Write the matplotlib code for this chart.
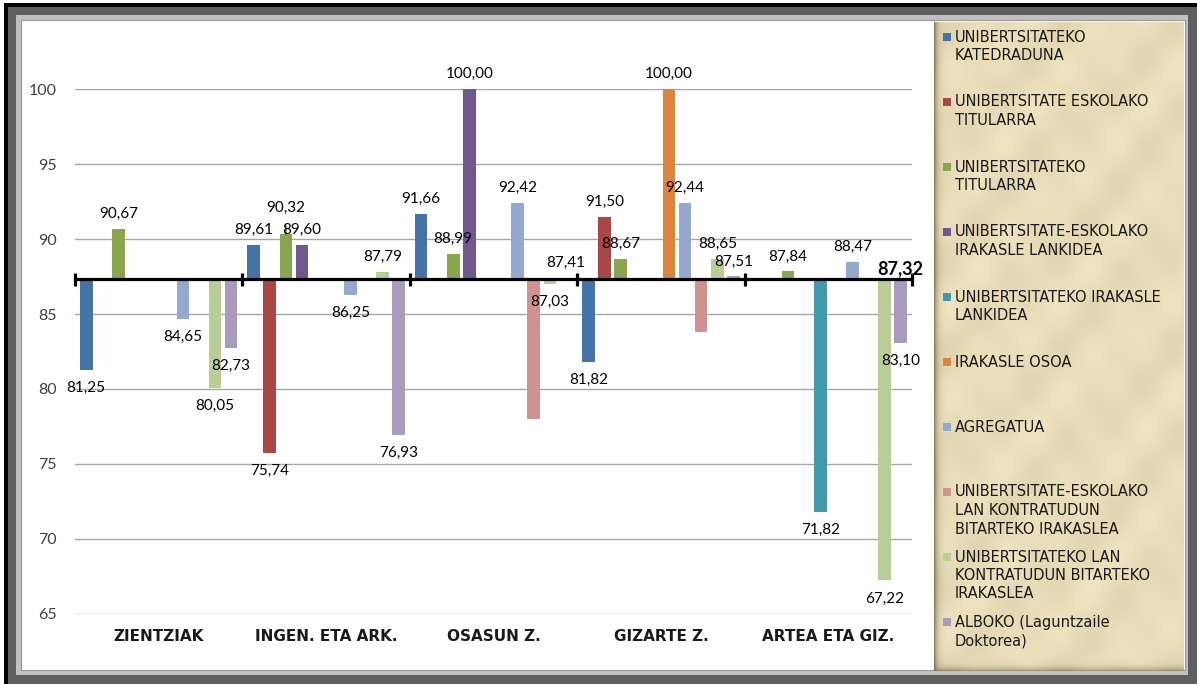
import numpy as np
import matplotlib
matplotlib.use("Agg")
import matplotlib.pyplot as plt
from matplotlib.patches import Rectangle

plt.rcParams['font.family'] = ['Lato', 'DejaVu Sans']

# ---------------- data ----------------
CATEGORIES = ["ZIENTZIAK", "INGEN. ETA ARK.", "OSASUN Z.", "GIZARTE Z.", "ARTEA ETA GIZ."]
SERIES = [
    "UNIBERTSITATEKO\nKATEDRADUNA",
    "UNIBERTSITATE ESKOLAKO\nTITULARRA",
    "UNIBERTSITATEKO\nTITULARRA",
    "UNIBERTSITATE-ESKOLAKO\nIRAKASLE LANKIDEA",
    "UNIBERTSITATEKO IRAKASLE\nLANKIDEA",
    "IRAKASLE OSOA",
    "AGREGATUA",
    "UNIBERTSITATE-ESKOLAKO\nLAN KONTRATUDUN\nBITARTEKO IRAKASLEA",
    "UNIBERTSITATEKO LAN\nKONTRATUDUN BITARTEKO\nIRAKASLEA",
    "ALBOKO (Laguntzaile\nDoktorea)",
]
nan = np.nan
katedraduna        = [81.25, 89.61, 91.66, 81.82, nan]
eskola_titularra   = [nan, 75.74, nan, 91.50, nan]
titularra          = [90.67, 90.32, 88.99, 88.67, 87.84]
eskola_lankidea    = [nan, 89.60, 100.00, nan, nan]
irakasle_lankidea  = [nan, nan, nan, nan, 71.82]
irakasle_osoa      = [nan, nan, nan, 100.00, nan]
agregatua          = [84.65, 86.25, 92.42, 92.44, 88.47]
eskola_bitarteko   = [nan, nan, 78.00, 83.82, nan]
bitarteko          = [80.05, 87.79, 87.03, 88.65, 67.22]
alboko             = [82.73, 76.93, 87.41, 87.51, 83.10]
VALUES = [katedraduna, eskola_titularra, titularra, eskola_lankidea, irakasle_lankidea,
          irakasle_osoa, agregatua, eskola_bitarteko, bitarteko, alboko]
SHOW_LABELS = [True, True, True, True, True, True, True, False, True, True]
BASELINE = 87.32
Y_TICKS = [65, 70, 75, 80, 85, 90, 95, 100]

COLORS = ['#4572A7', '#AA4643', '#89A54E', '#71588F', '#4198AF',
          '#DB843D', '#93A9CF', '#D19392', '#B9CD96', '#A99BBD']

# ---------------- figure & frame ----------------
W, H = 1197, 684
fig = plt.figure(figsize=(W / 100, H / 100), dpi=100)
fig.patch.set_facecolor('white')


def frect(x0, y0, x1, y1, **kw):
    r = Rectangle((x0 / W, 1 - y1 / H), (x1 - x0) / W, (y1 - y0) / H,
                  transform=fig.transFigure, **kw)
    fig.add_artist(r)


frect(4, 3, W, H, fc='black', ec='none', zorder=-10)
frect(8, 7, W, H, fc='#5f5f5f', ec='none', zorder=-9)
frect(16, 15, 1188, 675, fc='#c0c0c0', ec='none', zorder=-8)
frect(21, 20, 1185, 670, fc='white', ec='#9a9a9a', lw=0.8, zorder=-7)

# parchment legend panel
px0, py0, px1, py1 = 934, 22, 1184, 671
pw, ph = px1 - px0, py1 - py0
base = np.array([233, 220, 184], float) / 255
img = np.ones((ph, pw, 3)) * base
xx = np.arange(pw)[None, :, None]
yy = np.arange(ph)[:, None, None]
shade_l = np.exp(-xx / 3.0) * 0.75
shade_b = np.exp(-(ph - 1 - yy) / 3.0) * 0.55
dark = np.array([110, 95, 70], float) / 255
img = img * (1 - shade_l) + dark * shade_l
img = img * (1 - shade_b) + dark * shade_b
mott = (np.sin(xx / 9.0) * np.cos(yy / 13.0) + np.sin((xx + yy) / 17.0)) * 0.015
img = np.clip(img - mott, 0, 1)
ax_leg = fig.add_axes([px0 / W, 1 - py1 / H, pw / W, ph / H], zorder=-5)
ax_leg.imshow(img, aspect='auto', interpolation='bilinear')
ax_leg.axis('off')

# ---------------- main axes ----------------
ax = fig.add_axes([75 / W, 1 - 614 / H, 837 / W, 525 / H])
ax.set_facecolor('none')
ax.set_xlim(-0.5, len(CATEGORIES) - 0.5)
ax.set_ylim(64.98, 100.02)
for s in ax.spines.values():
    s.set_visible(False)
ax.set_yticks(Y_TICKS)
ax.set_yticklabels([str(t) for t in Y_TICKS])
ax.tick_params(axis='y', length=0, pad=13, labelsize=11.5, labelcolor='#404040')
ax.set_xticks([])
ax.grid(axis='y', color='#a6a6a6', lw=1.0, zorder=0)
ax.set_axisbelow(True)

x = np.arange(len(CATEGORIES))
n = len(SERIES)
slot = 0.0962
bw = 0.075


def fmt(v):
    return f"{v:.2f}".replace('.', ',')


for i, (vals, col, show) in enumerate(zip(VALUES, COLORS, SHOW_LABELS)):
    v = np.array(vals, float)
    pos = x + (i - (n - 1) / 2) * slot
    m = ~np.isnan(v)
    ax.bar(pos[m], v[m] - BASELINE, bottom=BASELINE, width=bw, color=col,
           edgecolor='none', zorder=3)
    if not show:
        continue
    for p, val in zip(pos[m], v[m]):
        up = val >= BASELINE
        dy = 15 if up else -18
        kw = {}
        if i == 2 and 0.5 < p < 1.5:   # INGEN label lifted with leader line
            dy = 26
            kw = dict(arrowprops=dict(arrowstyle='-', lw=0.7, color='black',
                                      shrinkA=5, shrinkB=7))
        ax.annotate(fmt(val), xy=(p, val), xytext=(0, dy * 0.72),
                    textcoords='offset points', ha='center', va='center',
                    fontsize=11, color='black', zorder=6, **kw)

# horizontal axis crossing at the baseline value
ax.axhline(BASELINE, color='black', lw=2.3, zorder=5)
tick_half = 6.5 / (525 / 35)
bounds = np.arange(len(CATEGORIES) + 1) - 0.5
ax.vlines(bounds, BASELINE - tick_half, BASELINE + tick_half, color='black',
          lw=2.3, zorder=5, clip_on=False)
ax.annotate(fmt(BASELINE), xy=(bounds[-1], BASELINE), xytext=(-12 * 0.72, 11 * 0.72),
            textcoords='offset points', ha='center', va='center',
            fontsize=13, fontweight='bold', color='black', zorder=6)

# category labels
for xi, cat in zip(x, CATEGORIES):
    ax.annotate(cat, xy=(xi, 0), xycoords=('data', 'axes fraction'),
                xytext=(0, -22.7 * 0.72), textcoords='offset points',
                ha='center', va='center', fontsize=11, fontweight='bold',
                color='#1a1a1a', family=['DejaVu Sans'])

# ---------------- legend ----------------
first_y = 37
entry_gap = 65
line_gap = 18.5
for i, (name, col) in enumerate(zip(SERIES, COLORS)):
    y0 = first_y + i * entry_gap
    frect(943, y0 - 4, 951, y0 + 4, fc=col, ec='none', zorder=2)
    for j, line in enumerate(name.split('\n')):
        yl = y0 + j * line_gap
        fig.text(955 / W, 1 - yl / H, line, ha='left', va='center',
                 fontsize=10.5, color='#1a1a1a', family=['DejaVu Sans'])

fig.savefig('out.png', dpi=100)
